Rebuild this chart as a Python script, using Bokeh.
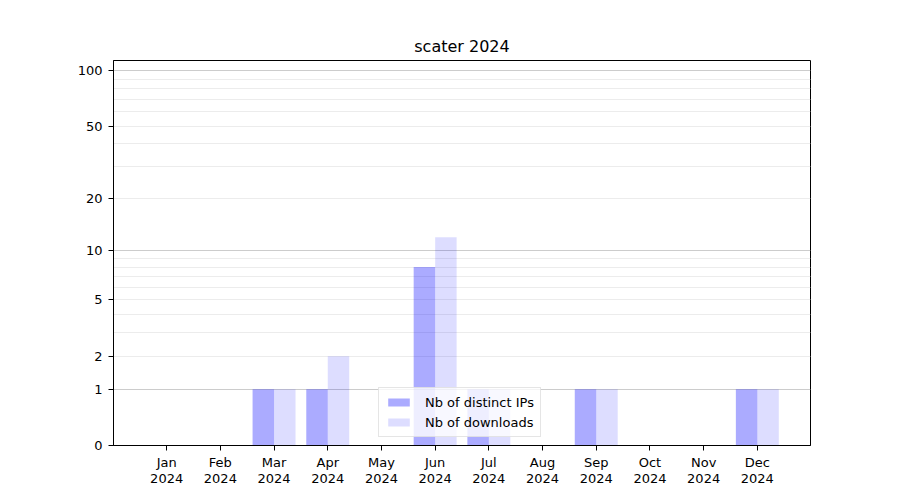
import numpy as np
from bokeh.plotting import figure
from bokeh.models import Range1d, FixedTicker, ColumnDataSource
from bokeh.embed import file_html
from bokeh.resources import INLINE

months = ["Jan", "Feb", "Mar", "Apr", "May", "Jun", "Jul", "Aug", "Sep", "Oct", "Nov", "Dec"]
year = "2024"
distinct_ips = [0, 0, 1, 1, 0, 8, 1, 0, 1, 0, 0, 1]
downloads = [0, 0, 1, 2, 0, 12, 1, 0, 1, 0, 0, 1]
y_tick_values = [0, 1, 2, 5, 10, 20, 50, 100]
y_major_grid = [1, 10, 100]
y_minor_grid = [2, 3, 4, 5, 6, 7, 8, 9, 20, 30, 40, 50, 60, 70, 80, 90]


def tr(v):
    return float(np.log10(1.0 + v))


x = np.arange(len(months))
src = ColumnDataSource(dict(
    x_ips=x - 0.2,
    x_dl=x + 0.2,
    ips=[tr(v) for v in distinct_ips],
    dl=[tr(v) for v in downloads],
))

FONT = "DejaVu Sans"

p = figure(width=884, height=490, output_backend="svg", toolbar_location=None,
           title="scater 2024",
           x_range=Range1d(-0.99, 11.99), y_range=Range1d(0, tr(113.5)),
           min_border_left=113, min_border_right=74, min_border_top=60, min_border_bottom=45)

p.vbar(x="x_ips", top="ips", width=0.4, bottom=0, source=src,
       fill_color="blue", fill_alpha=0.33, line_color=None, legend_label="Nb of distinct IPs")
p.vbar(x="x_dl", top="dl", width=0.4, bottom=0, source=src,
       fill_color="blue", fill_alpha=0.135, line_color=None, legend_label="Nb of downloads")

p.title.align = "center"
p.title.text_font = FONT
p.title.text_font_size = "16px"
p.title.text_font_style = "normal"
p.title.text_color = "black"

p.outline_line_color = "black"
p.outline_line_alpha = 1.0
p.outline_line_width = 1

# x axis
p.xaxis.ticker = FixedTicker(ticks=list(range(len(months))))
p.xaxis.major_label_overrides = {i: f"{m}\n{year}" for i, m in enumerate(months)}
# y axis
p.yaxis.ticker = FixedTicker(ticks=[tr(v) for v in y_tick_values])
p.yaxis.major_label_overrides = {tr(v): str(v) for v in y_tick_values}

for ax in (p.xaxis[0], p.yaxis[0]):
    ax.axis_line_color = "black"
    ax.major_tick_line_color = "black"
    ax.major_tick_out = 5
    ax.major_tick_in = 0
    ax.minor_tick_line_color = None
    ax.major_label_text_font = FONT
    ax.major_label_text_font_size = "13px"
    ax.major_label_text_color = "black"
p.yaxis.major_label_standoff = 6
p.xaxis.major_label_standoff = 4
p.xaxis.major_label_text_line_height = 1.1

p.xgrid.grid_line_color = None
p.ygrid.ticker = FixedTicker(ticks=[tr(v) for v in y_major_grid],
                             minor_ticks=[tr(v) for v in y_minor_grid])
p.ygrid.grid_line_color = "#cccccc"
p.ygrid.grid_line_width = 1
p.ygrid.minor_grid_line_color = "#ececec"
p.ygrid.minor_grid_line_width = 1

leg = p.legend[0]
leg.location = (265, 8)
leg.border_line_color = "#cccccc"
leg.background_fill_alpha = 0.8
leg.label_text_font = FONT
leg.label_text_font_size = "13px"
leg.label_text_color = "black"
leg.glyph_width = 27
leg.glyph_height = 10
leg.label_height = 16
leg.label_standoff = 13
leg.spacing = 4
leg.padding = 6
leg.margin = 0

open("out.html", "w").write(file_html(p, INLINE))
